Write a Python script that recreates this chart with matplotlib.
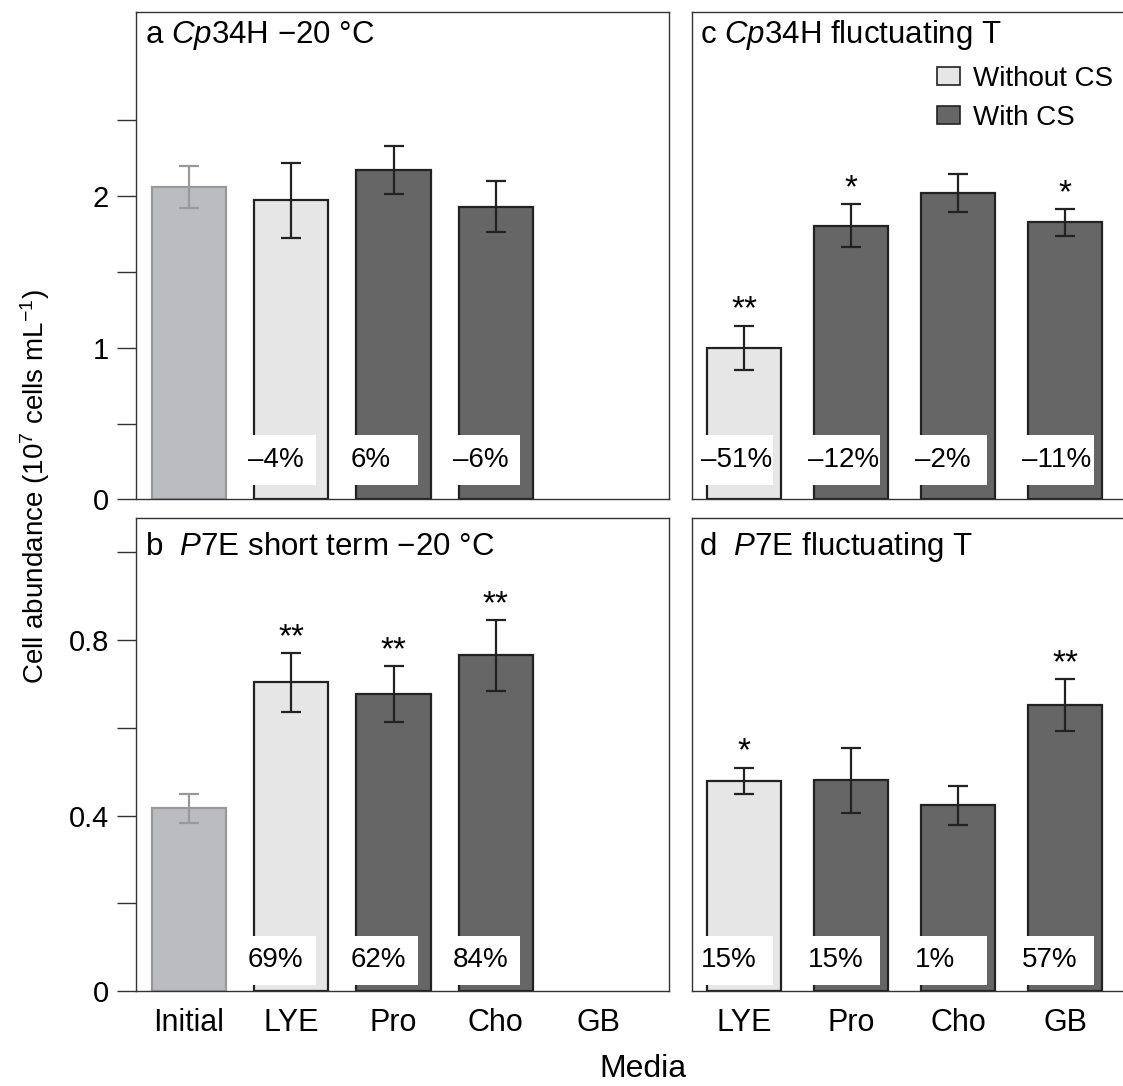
# bar chart of cell abundance, 4 panels (a-d)
import matplotlib.pyplot as plt
import matplotlib.transforms as mtransforms
from matplotlib.patches import Rectangle, Patch

plt.rcParams['font.family'] = 'Liberation Sans'
plt.rcParams['mathtext.fontset'] = 'custom'
plt.rcParams['mathtext.rm'] = 'Liberation Sans'
plt.rcParams['mathtext.it'] = 'Liberation Sans:italic'

# categories
media_left = ["Initial", "LYE", "Pro", "Cho", "GB"]
media_right = ["LYE", "Pro", "Cho", "GB"]

# panel a: Cp34H -20 C
a_vals = [2.06, 1.97, 2.17, 1.93]
a_err = [0.14, 0.245, 0.16, 0.17]
a_kind = ["init", "without", "with", "with"]
a_pct = ["", "–4%", "6%", "–6%"]
a_stars = ["", "", "", ""]

# panel b: P7E short term -20 C
b_vals = [0.417, 0.704, 0.677, 0.765]
b_err = [0.033, 0.067, 0.063, 0.08]
b_kind = ["init", "without", "with", "with"]
b_pct = ["", "69%", "62%", "84%"]
b_stars = ["", "**", "**", "**"]

# panel c: Cp34H fluctuating T
c_vals = [1.0, 1.805, 2.017, 1.825]
c_err = [0.145, 0.142, 0.126, 0.09]
c_kind = ["without", "with", "with", "with"]
c_pct = ["–51%", "–12%", "–2%", "–11%"]
c_stars = ["**", "*", "", "*"]

# panel d: P7E fluctuating T
d_vals = [0.479, 0.48, 0.423, 0.652]
d_err = [0.03, 0.074, 0.045, 0.059]
d_kind = ["without", "with", "with", "with"]
d_pct = ["15%", "15%", "1%", "57%"]
d_stars = ["*", "", "", "**"]

# colours for each kind of bar
fills = {"init": "#bbbcc0", "without": "#e6e6e6", "with": "#666666"}
edges = {"init": "#999999", "without": "#222222", "with": "#222222"}

fig = plt.figure(figsize=(11.23, 10.86), dpi=100)
ax_a = fig.add_axes([0.1207, 0.5401, 0.4751, 0.4486])
ax_b = fig.add_axes([0.1207, 0.0875, 0.4751, 0.4358])
ax_c = fig.add_axes([0.6162, 0.5401, 0.3847, 0.4486])
ax_d = fig.add_axes([0.6162, 0.0875, 0.3847, 0.4358])


def draw_panel(ax, vals, errs, kinds, pcts, stars, width, box_y, box_h, box_w):
    trans = mtransforms.blended_transform_factory(ax.transData, ax.transAxes)
    for i in range(len(vals)):
        k = kinds[i]
        ax.bar(i, vals[i], width, color=fills[k], edgecolor=edges[k],
               linewidth=1.6, zorder=2)
        ax.errorbar(i, vals[i], yerr=errs[i], fmt='none', ecolor=edges[k],
                    elinewidth=1.6, capsize=7, capthick=1.6, zorder=4)
        if stars[i]:
            ax.annotate(stars[i], (i, vals[i] + errs[i]), xytext=(0, 0),
                        textcoords='offset points', ha='center', va='bottom',
                        fontsize=24, zorder=6)
        if pcts[i]:
            left = i - width / 2
            ax.add_patch(Rectangle((left - 0.08, box_y), box_w, box_h,
                                   transform=trans, facecolor='white',
                                   edgecolor='none', zorder=5))
            ax.text(left - 0.06, box_y + box_h / 2, pcts[i], transform=trans,
                    ha='left', va='center', fontsize=20, zorder=6)
    for s in ax.spines.values():
        s.set_color('#333333')
        s.set_linewidth(1.0)
    ax.tick_params(axis='x', length=0, labelsize=22, pad=12)
    ax.tick_params(axis='y', length=14, width=1.0, color='#333333',
                   labelsize=21, pad=5)


draw_panel(ax_a, a_vals, a_err, a_kind, a_pct, a_stars, 0.725, 0.030, 0.103, 0.68)
draw_panel(ax_b, b_vals, b_err, b_kind, b_pct, b_stars, 0.725, 0.0135, 0.103, 0.68)
draw_panel(ax_c, c_vals, c_err, c_kind, c_pct, c_stars, 0.69, 0.030, 0.103, 0.70)
draw_panel(ax_d, d_vals, d_err, d_kind, d_pct, d_stars, 0.69, 0.0135, 0.103, 0.70)

# left panels: axes and ticks
for ax in [ax_a, ax_b]:
    ax.set_xlim(-0.523, 4.694)
    ax.set_xticks(range(len(media_left)))
ax_a.set_xticklabels([])
ax_b.set_xticklabels(media_left)
ax_a.set_ylim(0, 3.21)
ax_a.set_yticks([0, 0.5, 1, 1.5, 2, 2.5])
ax_a.set_yticklabels(["0", "", "1", "", "2", ""])
ax_b.set_ylim(0, 1.079)
ax_b.set_yticks([0, 0.2, 0.4, 0.6, 0.8, 1.0])
ax_b.set_yticklabels(["0", "", "0.4", "", "0.8", ""])

# right panels
for ax in [ax_c, ax_d]:
    ax.set_xlim(-0.486, 3.551)
    ax.set_xticks(range(len(media_right)))
    ax.set_yticks([])
ax_c.set_xticklabels([])
ax_d.set_xticklabels(media_right)
ax_c.set_ylim(0, 3.21)
ax_d.set_ylim(0, 1.079)

# panel titles
ax_a.text(0.018, 0.936, r"a $\mathit{Cp}$34H −20 °C", transform=ax_a.transAxes,
          ha='left', va='baseline', fontsize=22.5)
ax_b.text(0.018, 0.922, r"b  $\mathit{P}$7E short term −20 °C", transform=ax_b.transAxes,
          ha='left', va='baseline', fontsize=22.5)
ax_c.text(0.018, 0.936, r"c $\mathit{Cp}$34H fluctuating T", transform=ax_c.transAxes,
          ha='left', va='baseline', fontsize=22.5)
ax_d.text(0.016, 0.922, r"d  $\mathit{P}$7E fluctuating T", transform=ax_d.transAxes,
          ha='left', va='baseline', fontsize=22.5)

# legend
handles = [Patch(facecolor=fills["without"], edgecolor='#222222', linewidth=1.2, label='Without CS'),
           Patch(facecolor=fills["with"], edgecolor='#222222', linewidth=1.2, label='With CS')]
ax_c.legend(handles=handles, loc='upper left', bbox_to_anchor=(0.566, 0.89),
            frameon=False, fontsize=20, handlelength=0.85, handleheight=0.65,
            handletextpad=0.45, labelspacing=0.47, borderpad=0, borderaxespad=0)

# shared axis labels
fig.text(0.0312, 0.5516, "Cell abundance (10$^7$ cells mL$^{-1}$)", rotation=90,
         ha='center', va='center', fontsize=20)
fig.text(0.5726, 0.0157, "Media", ha='center', va='center', fontsize=23)

fig.savefig('out.png', dpi=100)
